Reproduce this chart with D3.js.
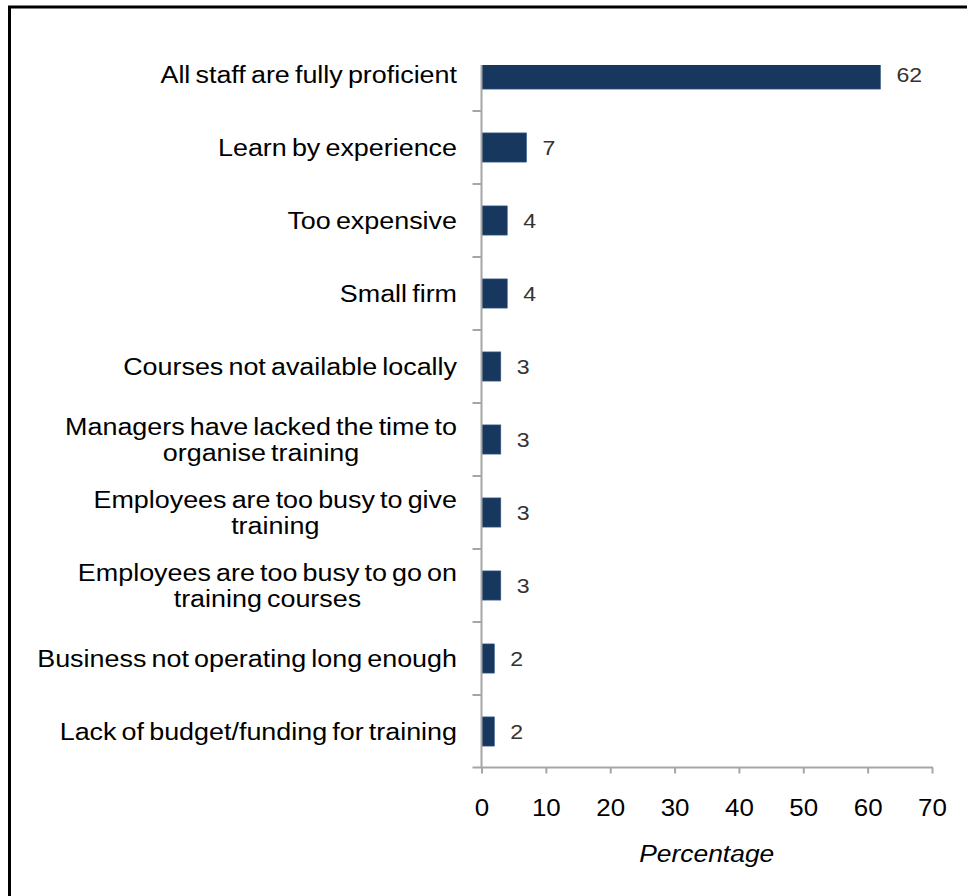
<!DOCTYPE html>
<html>
<head>
<meta charset="utf-8">
<script src="https://cdn.jsdelivr.net/npm/d3@7/dist/d3.min.js"></script>
<style>
  body { margin: 0; background: #fff; }
  svg { display: block; font-family: "Liberation Sans", Arial, sans-serif; }
</style>
</head>
<body>
<svg id="chart" width="967" height="896"></svg>
<script>
// Reasons given for not providing training (percentage of firms)
const categories = [
  "All staff are fully proficient",
  "Learn by experience",
  "Too expensive",
  "Small firm",
  "Courses not available locally",
  "Managers have lacked the time to\norganise training",
  "Employees are too busy to give\ntraining",
  "Employees are too busy to go on\ntraining courses",
  "Business not operating long enough",
  "Lack of budget/funding for training"
];
const values = [62, 7, 4, 4, 3, 3, 3, 3, 2, 2];
const xTicks = [0, 10, 20, 30, 40, 50, 60, 70];
const xTitle = "Percentage";

const svg = d3.select("#chart");

const barColor = "#17375e";
const axisColor = "#a6a6a6";

// Frame around the figure
svg.append("rect")
  .attr("x", 9.5).attr("y", 7)
  .attr("width", 1000).attr("height", 1000)
  .attr("fill", "none")
  .attr("stroke", "#000")
  .attr("stroke-width", 3);

const plotTop = 65, plotBottom = 767.5;

const x = d3.scaleLinear().domain([0, 70]).range([481.5, 932]);
const y = d3.scaleBand()
  .domain(d3.range(categories.length))
  .range([38, 768])
  .paddingInner(0.6)
  .paddingOuter(0.3);

// Plot area clip (top category band runs past the plot's upper edge)
svg.append("defs").append("clipPath").attr("id", "plotClip")
  .append("rect")
  .attr("x", x(0)).attr("y", plotTop)
  .attr("width", 500).attr("height", plotBottom - plotTop);

// Bars
svg.append("g").attr("clip-path", "url(#plotClip)")
  .selectAll("rect")
  .data(values)
  .join("rect")
  .attr("x", x(0))
  .attr("y", (d, i) => y(i))
  .attr("width", d => x(d) - x(0))
  .attr("height", y.bandwidth())
  .attr("fill", barColor)
  .attr("stroke", "#3c5f8c")
  .attr("stroke-width", 0.6);

// Value labels
svg.append("g")
  .selectAll("text")
  .data(values)
  .join("text")
  .attr("transform", (d, i) => `translate(${x(d) + 16},${y(i) + y.bandwidth() / 2}) scale(1.1,1)`)
  .attr("dy", "0.35em")
  .attr("font-size", 21)
  .attr("fill", "#333")
  .text(d => d);

// Category axis (vertical line with ticks between categories)
const yAxis = svg.append("g").attr("stroke", axisColor).attr("stroke-width", 2);
yAxis.append("line")
  .attr("x1", x(0)).attr("x2", x(0))
  .attr("y1", plotTop).attr("y2", plotBottom);
yAxis.selectAll("line.tick")
  .data(d3.range(1, categories.length))
  .join("line")
  .attr("class", "tick")
  .attr("x1", x(0) - 9).attr("x2", x(0))
  .attr("y1", i => y.range()[0] + i * y.step())
  .attr("y2", i => y.range()[0] + i * y.step());

// Category labels, wrapped lines centred on each other, block right-aligned
const labelRight = 457;
const lineGap = 26;
const labelG = svg.append("g");
categories.forEach((c, i) => {
  const lines = c.split("\n");
  const cy = y(i) + y.bandwidth() / 2;
  const g = labelG.append("g")
    .attr("transform", `translate(${labelRight},${cy}) scale(1.17,1)`);
  const texts = lines.map((ln, k) => g.append("text")
    .attr("y", (k - (lines.length - 1) / 2) * lineGap)
    .attr("dy", "0.35em")
    .attr("font-size", 23)
    .attr("word-spacing", -2)
    .attr("fill", "#000")
    .attr("text-anchor", "end")
    .text(ln));
  if (lines.length > 1) {
    const w = d3.max(texts, t => t.node().getComputedTextLength());
    texts.forEach(t => t.attr("text-anchor", "middle").attr("x", -w / 2));
  }
});

// Value axis
const xAxisG = svg.append("g").attr("transform", `translate(0,${plotBottom})`);
xAxisG.call(d3.axisBottom(x).tickValues(xTicks).tickSize(6).tickSizeOuter(0));
xAxisG.select(".domain").remove();
xAxisG.selectAll(".tick line").attr("stroke", axisColor).attr("stroke-width", 2);
xAxisG.append("line")
  .attr("x1", x(0) - 9).attr("x2", x(70) + 1)
  .attr("stroke", axisColor).attr("stroke-width", 2);
xAxisG.selectAll(".tick text")
  .attr("y", null)
  .attr("dy", null)
  .attr("transform", "translate(0,40) scale(1.08,1)")
  .attr("dominant-baseline", "central")
  .attr("font-size", 24)
  .attr("font-family", "\"Liberation Sans\", Arial, sans-serif")
  .attr("fill", "#000");

// Axis title
svg.append("text")
  .attr("transform", `translate(${(x(0) + x(70)) / 2},854) scale(1.1,1)`)
  .attr("dy", "0.35em")
  .attr("text-anchor", "middle")
  .attr("font-size", 24)
  .attr("font-style", "italic")
  .attr("fill", "#000")
  .text(xTitle);
</script>
</body>
</html>
